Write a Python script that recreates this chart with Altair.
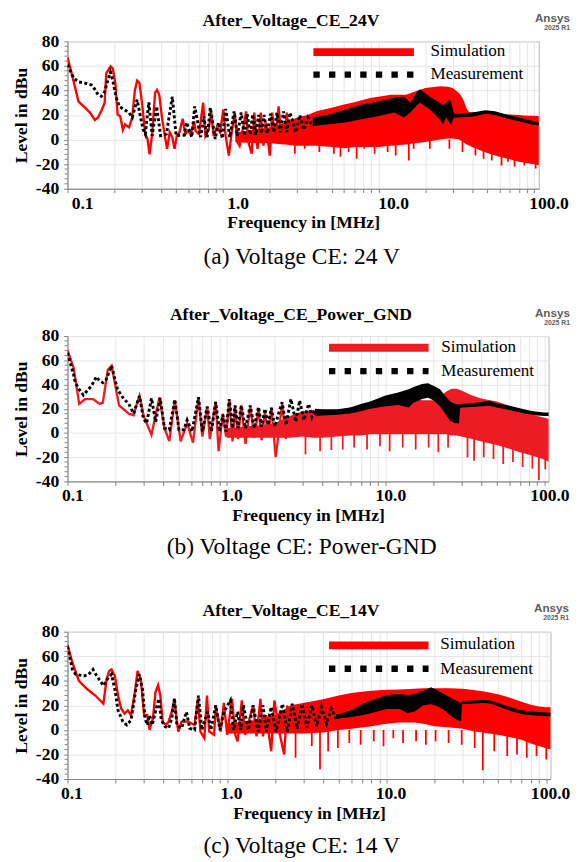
import altair as alt
import pandas as pd

# ---------------------------------------------------------------- data
# Panel (a) Voltage CE: 24 V  -- frequencies in MHz, levels in dBu
A_SIM_F = [0.1, 0.107, 0.1177, 0.1297, 0.1394, 0.1499, 0.1572, 0.1666, 0.1733, 0.1775, 0.1889, 0.1953, 0.2031, 0.2099, 0.2183,
           0.2270, 0.2346, 0.2486, 0.2608, 0.2711, 0.2803, 0.2902, 0.3013, 0.3164, 0.3272, 0.3368, 0.3503, 0.3658, 0.3765, 0.3891,
           0.4064, 0.4226, 0.4368, 0.4544, 0.4718, 0.4883, 0.5047, 0.5248, 0.5505, 0.5724, 0.5943, 0.6207, 0.6518, 0.6670, 0.7006,
           0.7458, 0.7709, 0.8096, 0.8407, 0.8703, 0.9131, 0.9577, 1.006, 1.040, 1.091, 1.134, 1.190, 1.237, 1.279, 1.409,
           1.457, 1.530, 1.589, 1.668, 1.750, 1.820, 1.880, 2.001, 2.072, 2.173, 2.280, 2.394, 2.475, 2.574, 2.673]
A_SIM_V = [67, 52.5, 31, 26, 22, 16, 18, 24.5, 30, 54, 59.7, 58, 46, 20.5, 19,
           8, 12.5, 10, 18, 40, 48, 46, 30, 4.5, 0.5, -12, 4.5, 38, 40.5, 36.5,
           16.5, 3, -7.5, 6, 2, -7.5, 3, 6, 17, 4.5, 7, 4.5, 15, 7, 4.5,
           30, 3, 8.5, 22, 3, 10, 6, 24.5, 3, -13, 4.5, 22, -2, -5, 23,
           -2, -11.5, 22, -7.5, 22, -5, 14, -13, 22, -2, 27, -3.5, 3, 22, -3.5]
A_MEAS_F = [0.1, 0.1096, 0.1178, 0.1297, 0.1428, 0.1499, 0.1573, 0.1650, 0.1732, 0.1817, 0.1889, 0.1953, 0.2050, 0.2151, 0.2313,
            0.2486, 0.2608, 0.2804, 0.2942, 0.3059, 0.3164, 0.3336, 0.3502, 0.3745, 0.3967, 0.4327, 0.4719, 0.4997, 0.5638, 0.5832,
            0.6299, 0.6578, 0.7177, 0.7530, 0.7902, 0.8292, 0.8913, 0.9353, 0.9909, 1.040, 1.107, 1.179, 1.237, 1.310, 1.375,
            1.429, 1.500, 1.551, 1.628, 1.692, 1.767, 1.836, 1.927, 2.022, 2.121, 2.226, 2.336, 2.451, 2.572, 2.699,
            2.944, 3.119, 3.305, 3.517, 3.780]
A_MEAS_V = [61, 50, 47, 46, 44.5, 41, 36.5, 35.2, 39, 48.5, 55, 48.5, 35, 27, 24.5,
            22, 18, 32.5, 19, 8.5, 4.5, 30.4, 3.2, 27, 3.2, 4.5, 35, 3.2, 3.7, 14,
            2, 27, 2, 19, 2, 26, 0.5, 14, 1, 25, 2, 23, 3, 22, 3,
            21, 4, 20.5, 4, 20, 5, 20, 5, 21, 6, 22, 6, 23, 6, 22,
            6, 20, 8, 18, 11]
A_SIMB_F = [1.2, 1.6, 2.0, 2.5, 3.0, 3.5, 4, 5, 6, 7, 8, 9, 10, 12, 15, 17, 20, 25, 28, 30, 33, 35, 37, 38.5, 40,
            50, 60, 70, 80, 90, 100, 108]
A_SIMB_LO = [-2, -3, -3, -4, -5, -5, -5, -6, -7, -6, -6, -6, -6, -5, -4, -3, -2, 0, 1, 1, 0, -2, -4, -5, -6,
             -11, -14, -16, -18, -19, -20, -21]
A_SIMB_HI = [6, 8, 10, 14, 18, 20, 23, 26, 28.5, 30.5, 32.5, 34, 35, 36.5, 36.5, 39, 42, 43.5, 43, 42, 38, 33, 25, 22, 22,
             21.5, 21, 20.5, 20, 19.5, 19.5, 19]
A_MEASB_F = [3.78, 4.813, 6.127, 7.788, 9.913, 12.62, 14.58, 16.05, 17.68, 18.54, 21.42, 24.75, 26.0, 27.27, 28.6,
             29.31, 30.05, 30.74, 33.04, 42.07, 48.62, 56.17, 68.08, 82.62, 95.48, 108]
A_MEASB_LO = [11, 12.5, 14, 16.5, 19, 22, 18, 22, 28, 30, 24.5, 16.5, 12.5, 18, 14,
              12, 16, 18, 18, 19, 21, 20, 17, 14.5, 12.5, 11.5]
A_MEASB_HI = [18, 20.5, 24.5, 28.5, 31, 34, 35, 30, 39, 41, 35, 30, 28, 30, 32.5,
              31, 25, 21, 21, 22.5, 24, 23, 20, 17.5, 15.5, 14]
A_SPIKE_F = [2.901, 3.354, 4.165, 5.172, 5.698, 6.426, 7.244, 8.097, 9.452, 11.46, 12.91, 15.68, 16.85, 21.42, 28.60,
             34.72, 42.07, 47.42, 53.56, 61.88, 68.08, 75.03, 86.69, 95.48, 102.6]
A_SPIKE_V = [-11.5, -7.5, -10, -11.5, -14, -10, -15.5, -7.5, -11.5, -10, -13, -17, -7.5, -7.5, -7.5,
             -10, -13, -15.5, -17, -21, -18, -22, -21, -19.5, -23.5]

# Panel (b) Voltage CE: Power-GND
B_SIM_F = [0.1, 0.1093, 0.1184, 0.1289, 0.1449, 0.1591, 0.1668, 0.1790, 0.1894, 0.1967, 0.2110, 0.2428, 0.2606, 0.2668, 0.2836,
           0.3000, 0.3144, 0.3373, 0.3585, 0.3793, 0.4070, 0.4367, 0.4730, 0.5025, 0.5144, 0.5654, 0.6152, 0.6664, 0.7048, 0.7560,
           0.7852, 0.8545, 0.8915, 0.9476, 0.9931, 1.041, 1.091, 1.132, 1.181, 1.238, 1.316, 1.411, 1.494, 1.588, 1.664,
           1.744, 1.828, 1.916, 2.037, 2.237, 2.367]
B_SIM_V = [68.4, 53.7, 24, 28, 28, 24, 25, 52, 55.5, 44, 22.7, 16, 14.7, 20, 30.6,
           15, 8, -1.5, 15, 29.5, 4, -6.8, 27, 3, -7, 8, -8, 29, -3, 22,
           -5, 26, -15, 16, -3, 27, -7, 22, -5, 23, -9, 22, -4, 20, -6,
           18, -3, 21, -20, 24, -5]
B_MEAS_F = [0.1, 0.1093, 0.1119, 0.1184, 0.1258, 0.1416, 0.1518, 0.1591, 0.1668, 0.1748, 0.1894, 0.2061, 0.2263, 0.2428, 0.2606,
            0.2836, 0.3000, 0.3144, 0.3373, 0.3585, 0.3828, 0.4070, 0.4367, 0.4730, 0.5025, 0.5392, 0.5654, 0.6067, 0.6664, 0.7048,
            0.7560, 0.8037, 0.8545, 0.9043, 0.9476, 0.9931, 1.041, 1.091, 1.132, 1.181, 1.238, 1.316, 1.411, 1.494, 1.588,
            1.664, 1.744, 1.828, 1.916, 2.008, 2.237, 2.367, 2.541, 2.726, 2.884, 3.064, 3.287, 3.443, 3.613]
B_MEAS_V = [66, 48, 41.5, 36, 31.3, 38.9, 46.4, 43, 41.5, 44, 55.5, 36, 28, 24, 16,
            30.6, 12, 8, 28.7, 9.3, 28.7, 4, 2.6, 27.6, 2.6, 2.6, 10.6, 1.2, 29.5, 1.2,
            21.6, 1.2, 25.4, 1.2, 15, 1.2, 28, 3.9, 22.7, 3.9, 22.7, 3.9, 22.7, 3.9, 21.5,
            5.3, 20, 6.6, 20.7, 5.3, 25.4, 6.6, 28, 9.3, 26.8, 10.6, 24, 13.3, 20]
B_SIMB_F = [1.0, 1.5, 2.0, 2.5, 3.0, 3.5, 4, 5, 6, 7, 8, 10, 12, 15, 17, 20, 22, 24, 26, 28, 30, 35, 40, 50, 60,
            70, 80, 90, 100, 107]
B_SIMB_LO = [-4, -4, -4, -4, -3, -4, -4, -3, -2, -2, -1, -1, -1, -1, -1, -1, -1, -1, -2, -2, -3, -5, -7, -10, -13,
             -16, -18, -20, -22, -24]
B_SIMB_HI = [4, 6, 8, 14, 18, 19, 17, 19, 21, 22, 24, 26, 27, 28, 27, 27, 30, 34, 36.5, 36.5, 35, 31, 28.5, 26, 22.5,
             19, 16.5, 14, 12.5, 11.5]
B_MEASB_F = [3.6, 4, 5, 6, 7, 8, 10, 12, 14, 15, 17, 18.5, 20, 22, 24, 25.5, 27.5, 29.0, 29.4, 30, 35, 40, 45, 50, 60,
             70, 80, 90, 100, 107]
B_MEASB_LO = [14, 14.5, 15, 16, 18, 20, 22, 23, 21, 25, 28, 29, 27, 22, 15, 10, 8, 8, 20, 21, 21.5, 22, 22.5, 21, 19,
              17, 15.5, 14.5, 14, 14]
B_MEASB_HI = [20, 19.5, 19.5, 21, 24, 26, 31, 33.5, 36, 38, 40.5, 41, 39, 36, 30, 26, 24, 24, 23.5, 24, 24.5, 25.5, 26.5, 24.5, 22.5,
              20.5, 18.5, 17.5, 17, 17]
B_SPIKE_F = [3.138, 3.877, 4.563, 5.382, 6.344, 7.651, 9.228, 10.62, 12.83, 15.48, 18.67, 21.48, 24.74, 32.78, 36.04,
             41.47, 47.74, 54.97, 63.28, 72.86, 83.84, 92.15, 101.1]
B_SPIKE_V = [-17.6, -15, -14, -13.7, -12, -13.7, -11, -15, -12, -13.7, -12, -16, -12, -20, -23,
             -20, -21.5, -25.6, -24, -28, -29.5, -39, -30]

# Panel (c) Voltage CE: 14 V
C_SIM_F = [0.1, 0.1073, 0.1179, 0.1326, 0.1493, 0.1678, 0.1757, 0.1826, 0.1886, 0.1979, 0.2073, 0.2172, 0.2278, 0.2387, 0.2500,
           0.2624, 0.2749, 0.2879, 0.3020, 0.3164, 0.3268, 0.3429, 0.3557, 0.3695, 0.3817, 0.3948, 0.4137, 0.4297, 0.4502, 0.4677,
           0.4831, 0.4948, 0.5183, 0.5698, 0.6254, 0.6561, 0.6808, 0.7203, 0.7482, 0.7727, 0.8290, 0.8491, 0.9111, 0.9546, 1.001,
           1.074, 1.126, 1.163, 1.237, 1.296, 1.457, 1.529, 1.618, 1.678, 1.761, 1.889, 1.979, 2.123, 2.278, 2.386]
C_SIM_V = [69.3, 54.7, 40, 33.3, 28, 21.3, 41.3, 48, 49.3, 44, 28, 17.3, 13.3, 16, 12,
           28, 48, 41, 12, 12, 0, 9.3, 30.7, 36.5, 28, 6.7, 4, 6.7, 14.7, 25.3,
           8, -1.3, 6.7, 6.7, 4, 25.3, -1.3, -6.7, 28, -1.3, -4, 18, -1.3, 22, -4,
           25.3, -4, -9.3, 24, -4, 20, -5.3, 25.3, -5.3, 12, -17.3, 24, -1.3, -20, 20]
C_MEAS_F = [0.1, 0.1073, 0.1126, 0.1266, 0.1358, 0.1443, 0.1527, 0.1678, 0.1775, 0.1886, 0.1979, 0.2073, 0.2224, 0.2353, 0.2500,
            0.2684, 0.2815, 0.2949, 0.3063, 0.3164, 0.3268, 0.3395, 0.3592, 0.3733, 0.3871, 0.4096, 0.4297, 0.4502, 0.4677, 0.4851,
            0.5183, 0.5563, 0.5828, 0.6254, 0.6617, 0.6944, 0.7556, 0.7914, 0.8491, 0.9021, 0.9546, 1.049, 1.099, 1.163, 1.220,
            1.266, 1.358, 1.457, 1.564, 1.678, 1.761, 1.889, 2.027, 2.224, 2.386, 2.561, 2.748, 2.949, 3.164, 3.395,
            3.643, 3.910, 4.195, 4.502, 4.831]
C_MEAS_V = [68, 49.3, 45.3, 44, 45.3, 49.3, 44, 36, 41.3, 45.3, 33.3, 16, 6.7, 4, 8,
            33.3, 45.3, 33.3, 9.3, 4, 12, 4, 17.3, 25.3, 8, 2.7, 1.3, 9.3, 25.9, 4,
            1.3, 14.7, 1.3, 0, 28, 0, 14.7, 0, 20, 0, 14.7, 24, 0, 14.7, 0,
            20, 0, 20, -1.3, 20, -1.3, 18.7, -1.3, 21.3, -1.3, 21.3, 1, 21.3, 2, 20,
            3, 18.7, 5, 17.3, 9]
C_SIMB_F = [1.0, 1.5, 2.0, 2.5, 3, 4, 5, 6, 7, 8, 10, 12, 15, 17, 20, 25, 30, 35, 40, 50, 60, 70, 80, 90, 100, 107]
C_SIMB_LO = [-3, -3, -3, -3, -3, -2, 0, 1, 2, 3, 5, 6, 6, 5, 3, 2, 1, -1, -2, -4, -6, -8, -11, -13, -15, -16]
C_SIMB_HI = [5, 8, 12, 20, 22, 25, 28, 30, 31, 32, 32.8, 33, 33.5, 34, 34, 34, 33.5, 32.5, 31.5, 29, 26, 23, 20.5, 19, 18.5, 18.5]
C_MEASB_F = [4.831, 5, 6, 7, 8, 10, 12, 13.5, 15, 17, 19, 21, 23, 25, 27.5, 29.3, 29.6, 35, 40, 45, 50, 60, 70, 80, 90, 107]
C_MEASB_LO = [9, 9.3, 10.5, 12, 13.5, 17, 17, 13.5, 15, 20, 21, 19, 16, 12, 8, 7, 21, 21.5, 22, 21.5, 19, 15.5, 13, 12, 11.5, 11]
C_MEASB_HI = [13, 13, 16, 21, 24, 28.5, 29.3, 28.5, 29.3, 32, 34.7, 32, 29, 26.7, 23.5, 22, 23.5, 24, 24.5, 24, 22, 18.5, 16, 15, 14.5, 14]
C_SPIKE_F = [2.687, 3.395, 3.822, 4.298, 4.948, 5.834, 6.873, 8.301, 9.559, 11.01, 12.67, 15.29, 17.61, 20.27, 24.45,
             29.54, 35.62, 40.06, 47.23, 56.97, 65.60, 75.53, 86.98, 100.1]
C_SPIKE_V = [-22.7, -13, -32, -17.3, -14.7, -10.7, -12, -9.3, -13.3, -6.7, -10.7, -9.3, -12, -9.3, -10.7,
             -12, -14.7, -32.8, -17.3, -21.3, -20, -22.7, -21.3, -24]

TITLES = ["After_Voltage_CE_24V", "After_Voltage_CE_Power_GND", "After_Voltage_CE_14V"]
CAPTIONS = ["(a) Voltage CE: 24 V", "(b) Voltage CE: Power-GND", "(c) Voltage CE: 14 V"]
LEGEND_LABELS = ["Simulation", "Measurement"]
Y_TICKS = [-40, -20, 0, 20, 40, 60, 80]
Y_MINOR = [v for v in range(-36, 80, 4) if v % 20 != 0]
X_TICKS = [round(m * 10.0 ** e, 6) for e in (-1, 0, 1) for m in range(1, 10)] + [100.0]
X_LABELS = {0.1: "0.1", 1.0: "1.0", 10.0: "10.0", 100.0: "100.0"}

SERIF = "Liberation Serif"
SANS = "Liberation Sans"


def frame(**cols):
    n = min(len(v) for v in cols.values())
    return pd.DataFrame({k: list(v)[:n] for k, v in cols.items()})


DUMMY = pd.DataFrame({"d": [0]})


def txt(text, x, y, size, weight="normal", font=SERIF, color="black", align="left"):
    return alt.Chart(DUMMY).mark_text(
        text=text, font=font, fontSize=size, fontWeight=weight, color=color,
        align=align, baseline="middle"
    ).encode(x=alt.value(x), y=alt.value(y))


LABEL_EXPR = " : ".join(
    f"datum.value == {k} ? '{v}'" for k, v in X_LABELS.items()
) + " : ''"


def panel(p):
    red = p["red"]
    xs = alt.Scale(type="log", domain=[0.1, p["xmax"]], nice=False)
    ys = alt.Scale(domain=[-40, 80], nice=False)
    xax = alt.Axis(values=X_TICKS, labelExpr=LABEL_EXPR, title="Frequency in [MHz]",
                   labelOffset=p["lab_off"], labelPadding=2, titlePadding=2, tickSize=4,
                   labelOverlap=False, labelFlush=False)
    yax = alt.Axis(values=Y_TICKS, labelExpr="'' + datum.value", title="Level in dBu",
                   tickSize=4, labelPadding=5, titlePadding=5)
    X = alt.X("f:Q", scale=xs, axis=xax)
    Yv = alt.Y("v:Q", scale=ys, axis=yax)
    Ylo = alt.Y("lo:Q", scale=ys, axis=yax)

    minor = alt.Chart(frame(v=Y_MINOR)).mark_rule(color="#808080", strokeWidth=1).encode(
        y=Yv, x=alt.value(-3), x2=alt.value(0))
    sim_band = alt.Chart(frame(f=p["simb_f"], lo=p["simb_lo"], hi=p["simb_hi"])).mark_area(
        color=red, clip=True).encode(x=X, y=Ylo, y2="hi:Q")
    spikes = alt.Chart(frame(f=p["spk_f"], v=p["spk_v"])).mark_rule(
        color=red, strokeWidth=1.8, clip=True).encode(x=X, y=Yv, y2=alt.datum(0))
    sim_line = alt.Chart(frame(f=p["sim_f"], v=p["sim_v"])).mark_line(
        color=red, strokeWidth=2.4, clip=True).encode(x=X, y=Yv)
    meas_band = alt.Chart(frame(f=p["measb_f"], lo=p["measb_lo"], hi=p["measb_hi"])).mark_area(
        color="black", clip=True).encode(x=X, y=Ylo, y2="hi:Q")
    meas_line = alt.Chart(frame(f=p["meas_f"], v=p["meas_v"])).mark_line(
        color="black", strokeWidth=3, strokeDash=[3, 2.5], clip=True).encode(x=X, y=Yv)

    lx0, lx1, ly0, ly1, tx = p["leg"]
    leg_sim = alt.Chart(DUMMY).mark_rule(color=red, strokeWidth=8, strokeCap="butt").encode(
        x=alt.value(lx0), x2=alt.value(lx1), y=alt.value(ly0))
    leg_meas = alt.Chart(DUMMY).mark_rule(color="black", strokeWidth=6.5, strokeDash=[6.5, 9.5],
                                          strokeCap="butt").encode(
        x=alt.value(lx0), x2=alt.value(lx1), y=alt.value(ly1))
    # invisible spacer that sets the bottom of the panel's bounds
    spacer = alt.Chart(DUMMY).mark_rule(opacity=0).encode(
        x=alt.value(0), x2=alt.value(1), y=alt.value(p["bottom"]))

    layers = [
        sim_band, spikes, sim_line, meas_band, meas_line, minor,
        leg_sim, leg_meas,
        txt(LEGEND_LABELS[0], tx, ly0 - 1, 17.5),
        txt(LEGEND_LABELS[1], tx, ly1, 17.5),
        txt(p["title"], 229, -21, 18, "bold", align="center"),
        txt("Ansys", p["ansys_x"], -24, 12, "bold", SANS, "#606060", "right"),
        txt("2025 R1", p["ansys_x"], -13.5, 7, "bold", SANS, "#606060", "right"),
        txt(p["caption"], 240, p["cap_y"], 24, align="center"),
        spacer,
    ]
    return alt.layer(*layers).properties(width=p["w"], height=p["h"])


PANELS = [
    dict(red="#ff0000", xmax=107.5, lab_off=15, w=483, h=151, title=TITLES[0], caption=CAPTIONS[0], cap_y=221,
         bottom=230, leg=(252, 355, 11, 34, 372), ansys_x=515,
         sim_f=A_SIM_F, sim_v=A_SIM_V, meas_f=A_MEAS_F, meas_v=A_MEAS_V,
         simb_f=A_SIMB_F, simb_lo=A_SIMB_LO, simb_hi=A_SIMB_HI,
         measb_f=A_MEASB_F, measb_lo=A_MEASB_LO, measb_hi=A_MEASB_HI,
         spk_f=A_SPIKE_F, spk_v=A_SPIKE_V),
    dict(red="#ed1c24", xmax=106, lab_off=5, w=493, h=149, title=TITLES[1], caption=CAPTIONS[1], cap_y=216,
         bottom=234, leg=(268, 370, 12, 36, 383), ansys_x=515,
         sim_f=B_SIM_F, sim_v=B_SIM_V, meas_f=B_MEAS_F, meas_v=B_MEAS_V,
         simb_f=B_SIMB_F, simb_lo=B_SIMB_LO, simb_hi=B_SIMB_HI,
         measb_f=B_MEASB_F, measb_lo=B_MEASB_LO, measb_hi=B_MEASB_HI,
         spk_f=B_SPIKE_F, spk_v=B_SPIKE_V),
    dict(red="#ff0000", xmax=106.4, lab_off=4, w=495, h=151, title=TITLES[2], caption=CAPTIONS[2], cap_y=220,
         bottom=220, leg=(268, 370, 14, 38, 382), ansys_x=514,
         sim_f=C_SIM_F, sim_v=C_SIM_V, meas_f=C_MEAS_F, meas_v=C_MEAS_V,
         simb_f=C_SIMB_F, simb_lo=C_SIMB_LO, simb_hi=C_SIMB_HI,
         measb_f=C_MEASB_F, measb_lo=C_MEASB_LO, measb_hi=C_MEASB_HI,
         spk_f=C_SPIKE_F, spk_v=C_SPIKE_V),
]

chart = alt.vconcat(*[panel(p) for p in PANELS], spacing=37).properties(
    padding={"left": 4, "top": -7.5, "right": 0, "bottom": 0},
    background="white",
).configure_view(
    stroke="#b4b4b4", strokeWidth=1
).configure_axis(
    labelFont=SERIF, labelFontSize=18, labelFontWeight="bold", labelColor="black",
    titleFont=SERIF, titleFontSize=18, titleFontWeight="bold", titleColor="black",
    domainColor="#808080", tickColor="#808080", gridColor="#e4e4e4", gridWidth=1,
)

chart.save("out.html", embed_options={"renderer": "svg", "actions": False})
